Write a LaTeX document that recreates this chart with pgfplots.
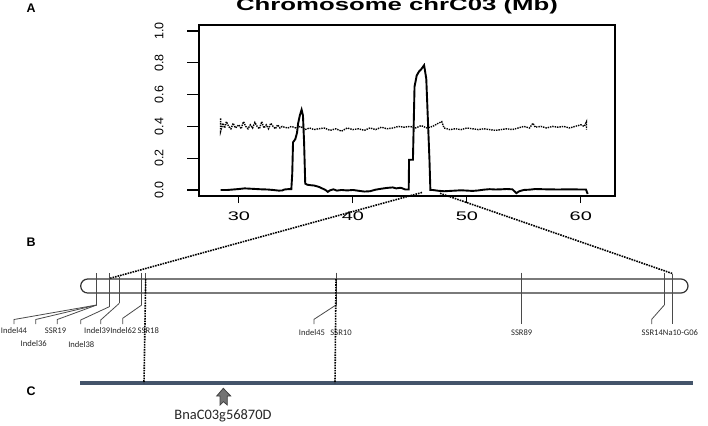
\documentclass[border=0pt]{standalone}
\usepackage{fontspec}
\setmainfont{Liberation Sans}
\newfontfamily\calibri{Carlito}
\usepackage{pgfplots}
\pgfplotsset{compat=1.18}

\definecolor{slate}{HTML}{44546A}
\definecolor{mk}{HTML}{4A4A4A}

\begin{document}
\begin{tikzpicture}[x=1bp,y=-1bp]
\path[use as bounding box] (0,0) rectangle (708,425);

% panel labels
\node[font=\bfseries\fontsize{12.5}{12.5}\selectfont] at (31,8.3) {A};
\node[font=\bfseries\fontsize{12.5}{12.5}\selectfont] at (31,242) {B};
\node[font=\bfseries\fontsize{12.5}{12.5}\selectfont] at (31,391) {C};

% title (cut at the top as in the figure)
\node[font=\bfseries\fontsize{17}{17}\selectfont, xscale=1.52, anchor=base, inner sep=0pt] at (397,10.7) {Chromosome chrC03 (Mb)};

\begin{axis}[
  at={(199bp,-196bp)}, anchor=south west,
  width=416bp, height=171bp, scale only axis,
  xmin=26.5, xmax=63, ymin=-0.038, ymax=1.038,
  xtick={30,40,50,60}, ytick={0,0.2,0.4,0.6,0.8,1},
  tick align=outside, tick pos=left,
  axis line style={line width=1.3bp},
  tick style={line width=1.1bp, black},
  major tick length=7bp,
  ytick style={draw=none},
  ticklabel style={font=\fontsize{12.5}{12.5}\selectfont},
  xticklabel style={xscale=1.6},
  xticklabel shift=5bp,
  yticklabel style={rotate=90, anchor=south},
  yticklabel shift=25bp,
  y tick label style={/pgf/number format/.cd, fixed, fixed zerofill, precision=1, /tikz/.cd},
  /pgf/number format/assume math mode=true,
  clip=false,
]
% y ticks are longer than x ticks in the figure
\pgfplotsinvokeforeach{0,0.2,0.4,0.6,0.8,1}{
  \draw[line width=1.1bp] (axis cs:26.5,#1) -- ([xshift=-12bp]axis cs:26.5,#1);
}
% solid curve
\addplot[black, line width=1.9bp] coordinates {
(28.4,0.000) (29.0,0.000) (29.5,0.003) (30.0,0.006) (30.5,0.010) (31.0,0.008)
(31.5,0.006) (32.0,0.004) (32.5,0.003) (33.0,0.000) (33.5,-0.004) (33.8,-0.003)
(34.0,0.003) (34.3,0.005) (34.6,0.005) (34.68,0.10) (34.75,0.30) (34.95,0.32)
(35.1,0.36) (35.2,0.42) (35.35,0.47) (35.5,0.505) (35.62,0.47) (35.72,0.30)
(35.82,0.04) (36.0,0.033) (36.3,0.03) (36.6,0.028) (37.0,0.02) (37.3,0.01)
(37.6,0.0) (37.8,-0.012) (38.0,-0.002) (38.3,0.004) (38.6,-0.004) (39.0,0.0)
(39.5,-0.003) (40.0,0.0) (40.5,-0.005) (41.0,-0.010) (41.5,-0.008) (42.0,0.002)
(42.5,0.008) (43.0,0.013) (43.5,0.016) (43.8,0.010) (44.2,0.014) (44.6,0.003)
(44.9,0.003) (44.93,0.19) (45.27,0.19) (45.41,0.65) (45.6,0.72) (45.8,0.745)
(46.0,0.76) (46.15,0.775) (46.25,0.785) (46.44,0.70) (46.72,0.19) (46.8,0.0)
(47.0,0.0) (47.5,-0.005) (48.0,-0.008) (48.5,-0.006) (49.0,-0.004) (49.5,-0.002)
(50.0,-0.004) (50.5,-0.006) (51.0,-0.003) (51.5,0.002) (52.0,0.005) (52.5,0.003)
(53.0,0.004) (53.5,0.006) (54.0,0.004) (54.2,-0.010) (54.35,-0.020) (54.6,-0.008)
(55.0,0.0) (55.5,0.002) (56.0,0.006) (57.0,0.004) (58.0,0.003) (59.0,0.004)
(60.0,0.003) (60.45,0.003) (60.6,-0.025)
};
% dotted curve
\addplot[black, densely dotted, line width=1.4bp] coordinates {
(28.4,0.45) (28.4,0.37) (28.6,0.42) (28.75,0.39) (28.9,0.43) (29.1,0.40)
(29.3,0.385) (29.5,0.42) (29.7,0.39) (30.0,0.41) (30.2,0.385) (30.4,0.43)
(30.6,0.40) (30.8,0.385) (31.0,0.41) (31.2,0.39) (31.4,0.425) (31.6,0.40)
(31.8,0.385) (32.0,0.43) (32.2,0.39) (32.4,0.41) (32.6,0.385) (32.8,0.42)
(33.0,0.40) (33.2,0.385) (33.4,0.41) (33.6,0.39) (33.8,0.40) (34.0,0.395)
(34.3,0.39) (34.6,0.40) (35.0,0.39) (35.4,0.40) (35.8,0.38) (36.2,0.39)
(36.6,0.38) (37.0,0.385) (37.5,0.39) (38.0,0.375) (38.5,0.385) (39.0,0.37)
(39.5,0.39) (40.0,0.38) (40.5,0.385) (41.0,0.375) (41.5,0.39) (42.0,0.38)
(42.5,0.395) (43.0,0.385) (43.5,0.39) (44.0,0.40) (44.5,0.395) (45.0,0.40)
(45.5,0.39) (46.0,0.405) (46.5,0.39) (47.0,0.40) (47.5,0.42) (47.8,0.43)
(48.0,0.39) (48.5,0.38) (49.0,0.385) (49.5,0.38) (50.0,0.39) (50.5,0.385)
(51.0,0.38) (51.5,0.385) (52.0,0.38) (52.5,0.375) (53.0,0.38) (53.5,0.385)
(54.0,0.38) (54.5,0.39) (55.0,0.40) (55.5,0.39) (55.8,0.42) (56.0,0.395)
(56.5,0.40) (57.0,0.39) (57.5,0.40) (58.0,0.395) (58.5,0.40) (59.0,0.39)
(59.5,0.40) (60.0,0.41) (60.3,0.40) (60.5,0.43) (60.5,0.38)
};
\end{axis}

% zoom lines from A to B
\draw[densely dotted, line width=1.6bp] (422,192.5) -- (110,278.3);
\draw[densely dotted, line width=1.6bp] (440,193.3) -- (672.3,273.5);

% panel B: chromosome bar
\draw[line width=1.2bp, black!80, rounded corners=7bp] (80.7,279) rectangle (688,293);

% markers
\begin{scope}[mk, line width=0.8bp]
\draw (96.7,273.3) -- (96.7,305);
\draw (109.3,273.3) -- (109.3,306.7);
\draw (119.3,276.7) -- (119.3,303.3);
\draw (141.7,273.3) -- (141.7,305);
\draw (145.7,273.3) -- (145.7,292);
\draw (336,272.7) -- (336,305);
\draw (521.7,272.7) -- (521.7,324);
\draw (664.3,272.7) -- (664.3,305);
\draw (672.3,273.5) -- (672.3,324);
% leaders
\draw (96.7,305) -- (14,319.5) -- (14,324);
\draw (96.7,305) -- (35.7,319.5) -- (35.7,324);
\draw (96.7,305) -- (57.3,319.5) -- (57.3,324);
\draw (109.3,306.7) -- (80.7,320) -- (80.7,324);
\draw (119.3,303.3) -- (100.7,320) -- (100.7,324);
\draw (141.7,305) -- (122.7,318.3) -- (122.7,324);
\draw (336,305) -- (314,319.3) -- (314,324);
\draw (664.3,305) -- (651.7,319.3) -- (651.7,324);
\end{scope}

% marker names
\begin{scope}[every node/.style={font=\calibri\fontsize{8.6}{8.6}\selectfont, text=black!85, inner sep=0pt}]
\node at (14,331) {Indel44};
\node at (33.7,343.3) {Indel36};
\node at (55.5,331) {SSR19};
\node at (81.3,345) {Indel38};
\node at (97.2,331) {Indel39};
\node at (123.3,331) {Indel62};
\node at (148.3,331) {SSR18};
\node at (312,333) {Indel45};
\node at (341,333) {SSR10};
\node at (521.7,333) {SSR89};
\node at (652.3,333) {SSR14};
\node at (680.5,333) {Na10-G06};
\end{scope}

% panel C
\draw[slate, line width=3.5bp] (80,383) -- (693,383);
\draw[densely dotted, line width=1.6bp] (145.7,279) -- (144,383);
\draw[densely dotted, line width=1.6bp] (336,279) -- (335,383);

% gene arrow
\draw[fill=black!55, draw=black!75, line width=0.8bp]
  (223.3,388.3) -- (230.7,396) -- (227.3,396) -- (227.3,405) -- (223.5,401.7)
  -- (220,405) -- (220,396) -- (216.7,396) -- cycle;
\node[font=\calibri\fontsize{14.5}{14.5}\selectfont, text=black!85] at (223,416) {BnaC03g56870D};

\end{tikzpicture}
\end{document}
